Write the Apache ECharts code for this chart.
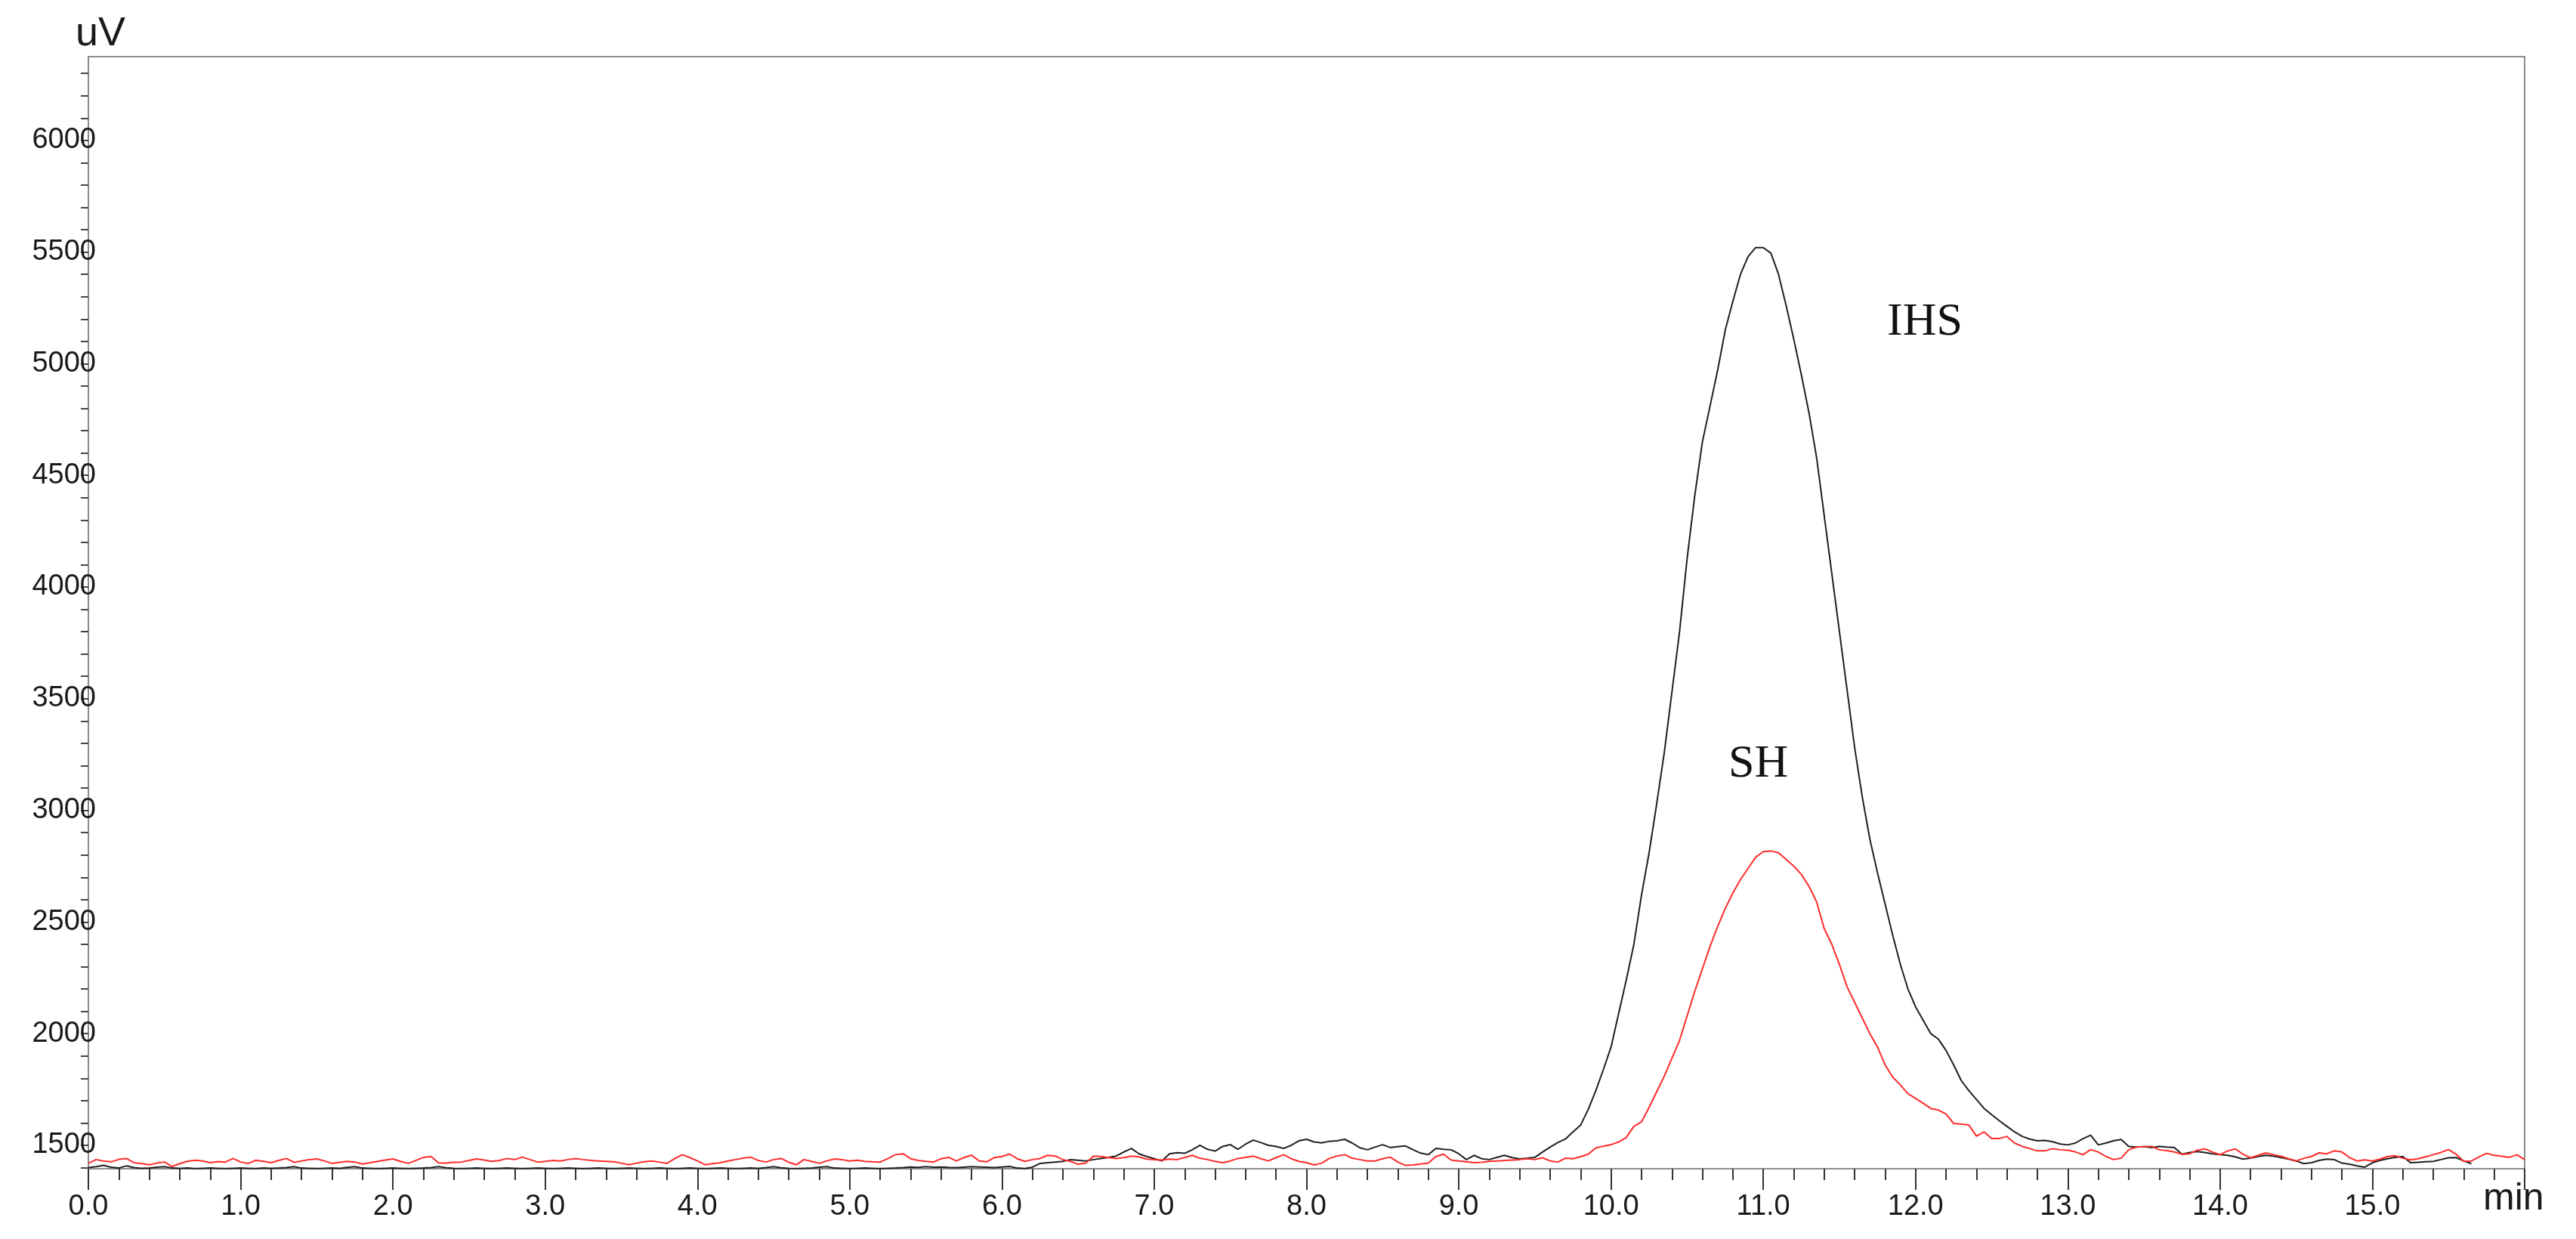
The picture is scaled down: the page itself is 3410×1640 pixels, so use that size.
<!DOCTYPE html>
<html lang="en">
<head>
    <meta charset="UTF-8">
    <title>IHS / SH chromatogram</title>
    <script src="https://cdn.jsdelivr.net/npm/echarts@6.0.0/dist/echarts.min.js"></script>
    <style>
        html, body { margin: 0; padding: 0; background: #fff; }
        #main { width: 3410px; height: 1640px; }
    </style>
</head>
<body>
    <div id="main"></div>

    <script>
        // detector samples, one every 0.05 min starting at 0.0 min
        const sampleStep = 0.05;

        const ihsValues = [
            1400, 1404, 1410, 1402, 1398, 1408, 1400, 1397, 1398, 1402, 1404, 1398, 1397, 1398, 1396, 1397, 1398, 1397, 1396, 1397,
            1398, 1397, 1396, 1398, 1397, 1398, 1400, 1404, 1398, 1397, 1396, 1397, 1398, 1397, 1401, 1404, 1398, 1397, 1396, 1397,
            1398, 1397, 1396, 1397, 1398, 1400, 1404, 1399, 1397, 1396, 1397, 1398, 1397, 1396, 1397, 1398, 1397, 1396, 1397, 1398,
            1397, 1396, 1397, 1398, 1397, 1396, 1397, 1398, 1397, 1396, 1397, 1398, 1397, 1396, 1397, 1398, 1397, 1396, 1397, 1398,
            1397, 1396, 1397, 1398, 1397, 1396, 1397, 1398, 1397, 1400, 1404, 1399, 1397, 1396, 1397, 1398, 1402, 1404, 1398, 1397,
            1396, 1397, 1398, 1397, 1396, 1397, 1398, 1400, 1403, 1401, 1404, 1402, 1403, 1401, 1400, 1402, 1404, 1403, 1402, 1400,
            1403, 1405, 1398, 1396, 1402, 1419, 1422, 1425, 1428, 1436, 1433, 1430, 1436, 1441, 1446, 1452, 1470, 1486, 1462, 1450,
            1440, 1430, 1462, 1467, 1464, 1480, 1500, 1482, 1474, 1495, 1503, 1482, 1505, 1523, 1512, 1500, 1495, 1486, 1500, 1520,
            1527, 1515, 1511, 1518, 1520, 1527, 1510, 1489, 1480, 1492, 1503, 1490, 1494, 1497, 1480, 1465, 1458, 1486, 1482, 1480,
            1462, 1436, 1455, 1440, 1436, 1446, 1455, 1445, 1439, 1442, 1446, 1470, 1492, 1512, 1528, 1560, 1590, 1660, 1745, 1840,
            1940, 2090, 2240, 2400, 2620, 2810, 3030, 3260, 3530, 3800, 4130, 4410, 4650, 4810, 4970, 5150, 5280, 5400, 5480, 5520,
            5520, 5495, 5400, 5260, 5110, 4950, 4780, 4580, 4320, 4060, 3800, 3540, 3280, 3060, 2870, 2720, 2580, 2440, 2310, 2200,
            2120, 2060, 2000, 1975, 1925, 1860, 1790, 1745, 1705, 1665, 1637, 1610, 1585, 1560, 1540, 1528, 1520, 1522, 1516, 1506,
            1502, 1510, 1530, 1545, 1502, 1510, 1520, 1526, 1495, 1492, 1494, 1490, 1495, 1492, 1490, 1460, 1468, 1472, 1468, 1462,
            1458, 1455, 1448, 1438, 1442, 1450, 1455, 1452, 1445, 1438, 1430, 1418, 1422, 1432, 1438, 1436, 1420, 1415, 1408, 1402,
            1422, 1432, 1440, 1446, 1450, 1422, 1424, 1426, 1428, 1436, 1444, 1445, 1430, 1418
        ];

        const shValues = [
            1419, 1436, 1430, 1426, 1437, 1441, 1422, 1418, 1413, 1420, 1425, 1405, 1418, 1428, 1433, 1430, 1422, 1427, 1425, 1441,
            1425, 1419, 1433, 1428, 1422, 1432, 1441, 1424, 1430, 1436, 1439, 1430, 1419, 1424, 1428, 1425, 1416, 1422, 1428, 1434,
            1439, 1428, 1419, 1432, 1446, 1450, 1421, 1420, 1424, 1425, 1432, 1439, 1434, 1428, 1432, 1441, 1436, 1447, 1436, 1425,
            1428, 1432, 1430, 1436, 1441, 1436, 1432, 1430, 1428, 1426, 1420, 1413, 1420, 1426, 1430, 1425, 1419, 1440, 1458, 1445,
            1430, 1413, 1418, 1422, 1430, 1436, 1442, 1447, 1432, 1425, 1436, 1441, 1424, 1413, 1436, 1428, 1419, 1430, 1439, 1436,
            1430, 1433, 1428, 1426, 1425, 1440, 1458, 1462, 1440, 1432, 1428, 1425, 1440, 1446, 1430, 1445, 1456, 1430, 1426, 1445,
            1450, 1461, 1440, 1428, 1436, 1441, 1455, 1452, 1436, 1428, 1415, 1420, 1452, 1450, 1445, 1441, 1445, 1452, 1448, 1438,
            1436, 1434, 1438, 1436, 1446, 1455, 1442, 1436, 1428, 1422, 1430, 1441, 1446, 1452, 1440, 1430, 1445, 1458, 1440, 1428,
            1422, 1412, 1420, 1441, 1452, 1458, 1442, 1436, 1430, 1430, 1440, 1447, 1425, 1410, 1412, 1416, 1420, 1450, 1460, 1434,
            1430, 1426, 1422, 1424, 1428, 1430, 1432, 1434, 1436, 1440, 1436, 1444, 1430, 1425, 1442, 1440, 1449, 1460, 1488, 1496,
            1503, 1515, 1535, 1585, 1605, 1670, 1740, 1810, 1890, 1970, 2080, 2190, 2290, 2390, 2480, 2560, 2630, 2690, 2740, 2790,
            2815, 2818, 2810, 2780, 2750, 2713, 2660, 2590, 2470, 2400, 2310, 2210, 2140, 2070, 2000, 1940, 1860, 1805, 1770, 1731,
            1710, 1688, 1665, 1658, 1640, 1598, 1595, 1591, 1541, 1560, 1530, 1530, 1540, 1510, 1495, 1485, 1475, 1475, 1485, 1480,
            1478, 1470, 1458, 1481, 1470, 1450, 1436, 1442, 1480, 1492, 1494, 1495, 1480, 1476, 1470, 1460, 1462, 1478, 1484, 1470,
            1458, 1475, 1484, 1460, 1444, 1455, 1466, 1458, 1451, 1440, 1430, 1442, 1450, 1466, 1462, 1475, 1470, 1445, 1430, 1435,
            1430, 1438, 1450, 1453, 1442, 1435, 1440, 1448, 1458, 1468, 1481, 1460, 1428, 1430, 1448, 1464, 1455, 1451, 1446, 1458,
            1435
        ];

        const yLabelValues = [1500, 2000, 2500, 3000, 3500, 4000, 4500, 5000, 5500, 6000];
        const yTickValues = [1400, 1500, 1600, 1700, 1800, 1900, 2000, 2100, 2200, 2300, 2400, 2500, 2600, 2700, 2800,
            2900, 3000, 3100, 3200, 3300, 3400, 3500, 3600, 3700, 3800, 3900, 4000, 4100, 4200, 4300, 4400, 4500, 4600,
            4700, 4800, 4900, 5000, 5100, 5200, 5300, 5400, 5500, 5600, 5700, 5800, 5900, 6000, 6100, 6200, 6300];

        function toPoints(values) {
            return values.map((v, i) => [+(i * sampleStep).toFixed(2), v]);
        }

        const myChart = echarts.init(document.getElementById('main'));

        myChart.setOption({
            animation: false,
            backgroundColor: '#fff',
            grid: {
                left: 117, right: 68, top: 75, bottom: 93,
                show: true,
                borderColor: '#8c8c8c',
                borderWidth: 2
            },
            xAxis: {
                type: 'value',
                min: 0,
                max: 16,
                interval: 1,
                axisLine: { lineStyle: { color: '#8c8c8c', width: 2 } },
                axisTick: { length: 28, lineStyle: { color: '#333', width: 2 } },
                minorTick: { show: true, splitNumber: 5, length: 15, lineStyle: { color: '#333', width: 2 } },
                splitLine: { show: false },
                axisLabel: {
                    margin: 32,
                    showMaxLabel: false,
                    color: '#1a1a1a',
                    fontFamily: 'Liberation Sans',
                    fontSize: 38,
                    formatter: v => v.toFixed(1)
                }
            },
            yAxis: {
                type: 'value',
                min: 1395,
                max: 6375,
                axisLine: { show: true, lineStyle: { color: '#8c8c8c', width: 2 } },
                axisTick: { show: true, length: 10, customValues: yTickValues, lineStyle: { color: '#444', width: 2 } },
                splitLine: { show: false },
                axisLabel: {
                    margin: -10,
                    customValues: yLabelValues,
                    color: '#1a1a1a',
                    fontFamily: 'Liberation Sans',
                    fontSize: 38,
                    formatter: v => String(v)
                }
            },
            graphic: [
                { type: 'text', left: 100, top: 18, style: { text: 'uV', font: '54px "Liberation Sans"', fill: '#1a1a1a' } },
                { type: 'text', left: 3287, top: 1562, style: { text: 'min', font: '50px "Liberation Sans"', fill: '#1a1a1a' } },
                { type: 'text', left: 2498, top: 396, style: { text: 'IHS', font: '62px "Liberation Serif"', fill: '#111' } },
                { type: 'text', left: 2288, top: 981, style: { text: 'SH', font: '62px "Liberation Serif"', fill: '#111' } }
            ],
            series: [
                {
                    name: 'IHS',
                    type: 'line',
                    data: toPoints(ihsValues),
                    symbol: 'none',
                    lineStyle: { color: '#1f1f1f', width: 2 }
                },
                {
                    name: 'SH',
                    type: 'line',
                    data: toPoints(shValues),
                    symbol: 'none',
                    lineStyle: { color: '#ff2b2b', width: 2 }
                }
            ]
        });
    </script>
</body>
</html>
